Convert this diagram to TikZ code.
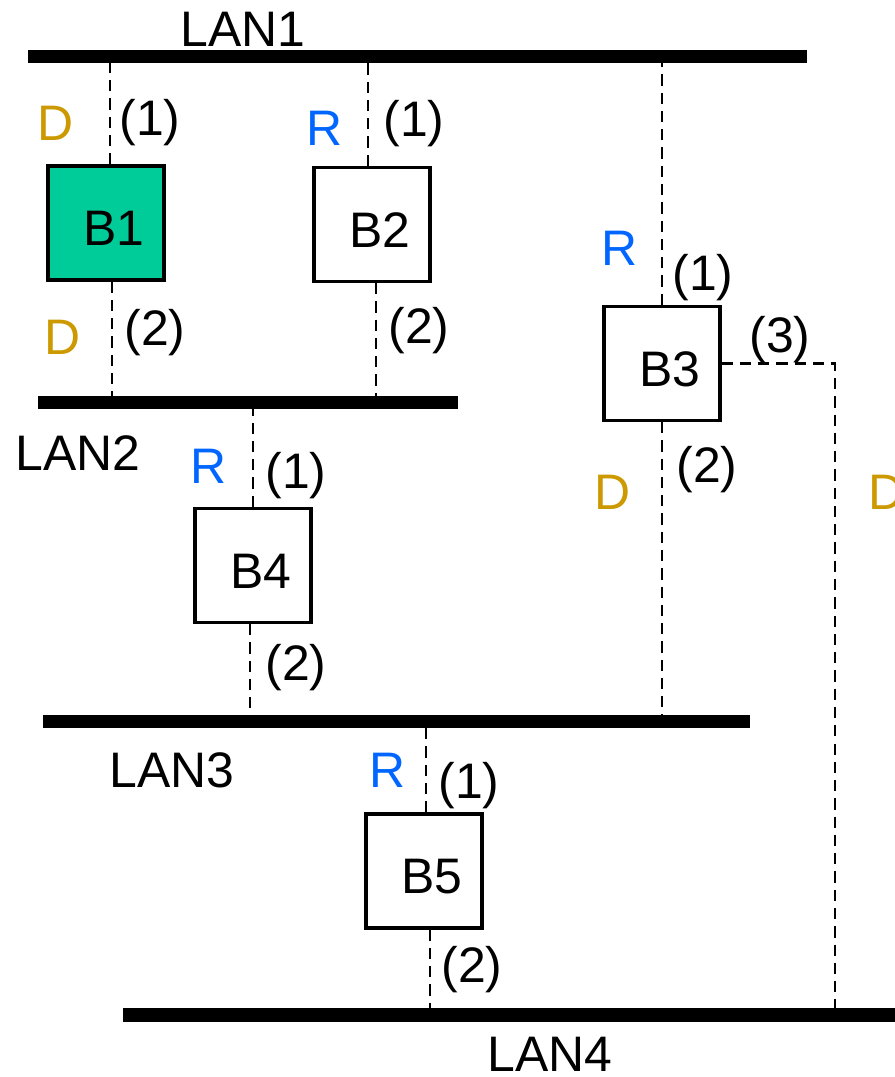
\documentclass[tikz,border=0pt]{standalone}
\usepackage{fontspec}
\setmainfont{Liberation Sans}
\definecolor{bfill}{HTML}{00CC99}
\definecolor{dcol}{HTML}{CC9900}
\definecolor{rcol}{HTML}{0066FF}
\tikzset{
  bridge/.style={draw, line width=0.9pt, minimum width=1.16cm, minimum height=1.14cm,
    inner sep=0pt, text height=4.6mm, execute at begin node={\hspace*{1.6mm}}},
  lan/.style={line width=3.7pt},
  link/.style={line width=0.7pt, dash pattern=on 3.2pt off 2pt},
  port/.style={inner sep=0pt},
  des/.style={port, text=dcol},
  root/.style={port, text=rcol},
}
\begin{document}
\begin{tikzpicture}[font=\fontsize{14.2pt}{17pt}\selectfont]
\useasboundingbox (0,0) rectangle (8.94,10.77);
% LANs
\coordinate (lan1w) at (0.28,10.20);
\coordinate (lan1e) at (8.07,10.20);
\coordinate (lan2w) at (0.38,6.74);
\coordinate (lan2e) at (4.58,6.74);
\coordinate (lan3w) at (0.43,3.55);
\coordinate (lan3e) at (7.50,3.55);
\coordinate (lan4w) at (1.23,0.62);
\coordinate (lan4e) at (8.97,0.62);
\node (lan1) at (2.43,10.48) {LAN1};
\node (lan2) at (0.78,6.24) {LAN2};
\node (lan3) at (1.72,3.07) {LAN3};
\node (lan4) at (5.50,0.23) {LAN4};
%
% bridges
\node[bridge, fill=bfill] (B1) at (1.06,8.54) {B1};
\node[bridge] (B2) at (3.72,8.525) {B2};
\node[bridge] (B3) at (6.62,7.135) {B3};
\node[bridge] (B4) at (2.53,5.115) {B4};
\node[bridge] (B5) at (4.24,2.06) {B5};
\coordinate (b3turn) at (8.35,0.62);
%
% links
\draw[link] ([xshift=0.4mm]B1.north) -- ([xshift=0.4mm]B1.north |- lan1w);
\draw[link] ([xshift=0.6mm]B1.south) -- ([xshift=0.6mm]B1.south |- lan2w);
\draw[link] ([xshift=-0.4mm]B2.north) -- ([xshift=-0.4mm]B2.north |- lan1w);
\draw[link] ([xshift=0.4mm]B2.south) -- ([xshift=0.4mm]B2.south |- lan2w);
\draw[link] (B3.north) -- (B3.north |- lan1w);
\draw[link] (B3.south) -- (B3.south |- lan3w);
\draw[link] (B3.east) -| (b3turn);
\draw[link] (B4.north) -- (B4.north |- lan2w);
\draw[link] ([xshift=-0.3mm]B4.south) -- ([xshift=-0.3mm]B4.south |- lan3w);
\draw[link] ([xshift=0.2mm]B5.north) -- ([xshift=0.2mm]B5.north |- lan3w);
\draw[link] ([xshift=0.6mm]B5.south) -- ([xshift=0.6mm]B5.south |- lan4w);
%
\draw[lan] (lan1w) -- (lan1e);
\draw[lan] (lan2w) -- (lan2e);
\draw[lan] (lan3w) -- (lan3e);
\draw[lan] (lan4w) -- (lan4e);
%
% ports
\node[des] (b1r1) at (0.56,9.54) {D};
\node[port] (b1p1) at (1.50,9.54) {(1)};
\node[des] (b1r2) at (0.63,7.40) {D};
\node[port] (b1p2) at (1.55,7.44) {(2)};
%
\node[root] (b2r1) at (3.25,9.49) {R};
\node[port] (b2p1) at (4.14,9.53) {(1)};
\node[port] (b2p2) at (4.19,7.46) {(2)};
%
\node[root] (b3r1) at (6.20,8.29) {R};
\node[port] (b3p1) at (7.03,7.99) {(1)};
\node[port] (b3p3) at (7.80,7.37) {(3)};
\node[port] (b3p2) at (7.07,6.07) {(2)};
\node[des] (b3r2) at (6.13,5.85) {D};
\node[des] (b3r3) at (8.87,5.85) {D};
%
\node[root] (b4r1) at (2.09,6.11) {R};
\node[port] (b4p1) at (2.96,6.01) {(1)};
\node[port] (b4p2) at (2.96,4.09) {(2)};
%
\node[root] (b5r1) at (3.88,3.07) {R};
\node[port] (b5p1) at (4.69,2.91) {(1)};
\node[port] (b5p2) at (4.72,1.07) {(2)};
\end{tikzpicture}
\end{document}
